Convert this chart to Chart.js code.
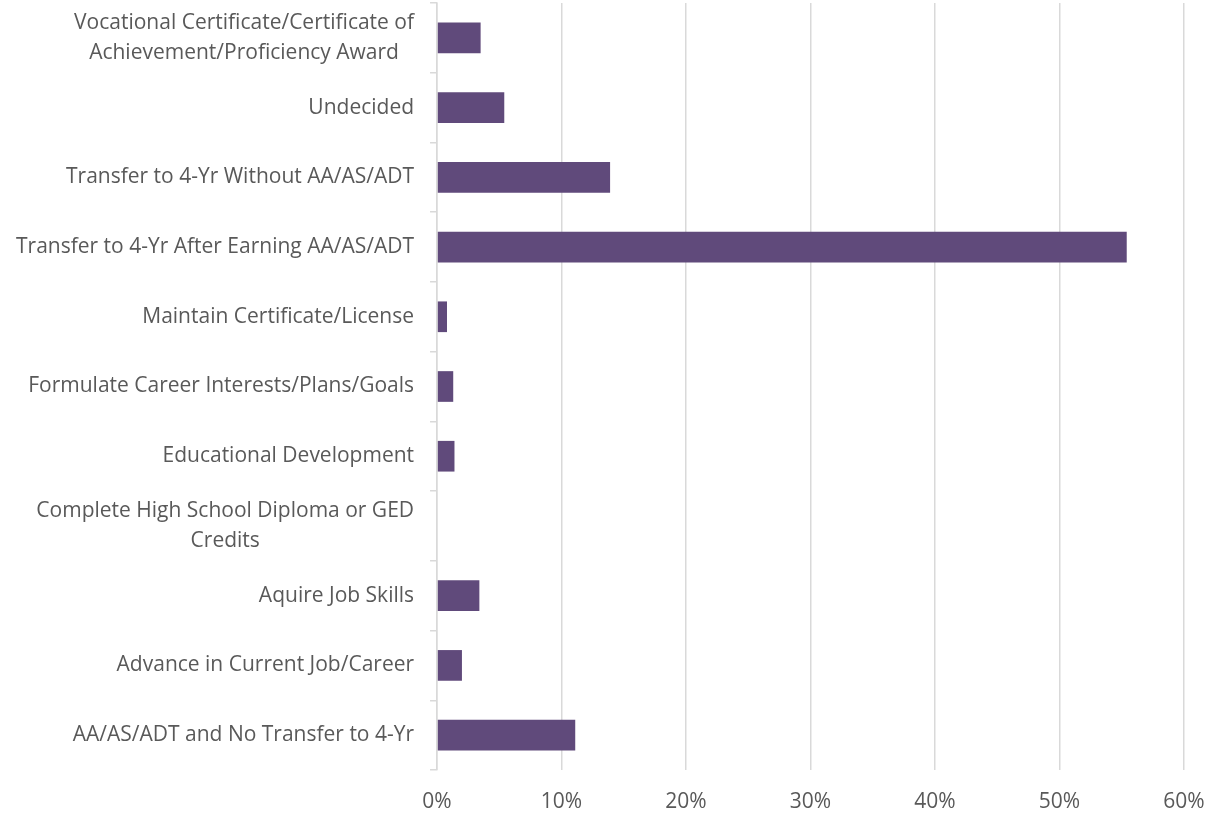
<!DOCTYPE html>
<html>
<head>
<meta charset="utf-8">
<script src="https://cdn.jsdelivr.net/npm/chart.js@4"></script>
<style>
  html, body { margin: 0; padding: 0; background: #fff; }
  #wrap { width: 1215px; height: 814px; }
</style>
</head>
<body>
<div id="wrap"><canvas id="goalsChart"></canvas></div>
<script>
// Categories, top to bottom as shown
const goalLabels = [
    ["Vocational Certificate/Certificate of", "Achievement/Proficiency Award"],
    "Undecided",
    "Transfer to 4-Yr Without AA/AS/ADT",
    "Transfer to 4-Yr After Earning AA/AS/ADT",
    "Maintain Certificate/License",
    "Formulate Career Interests/Plans/Goals",
    "Educational Development",
    ["Complete High School Diploma or GED", "Credits"],
    "Aquire Job Skills",
    "Advance in Current Job/Career",
    "AA/AS/ADT and No Transfer to 4-Yr"
];

// Share of students, percent
const goalShares = [3.5, 5.4, 13.9, 55.4, 0.8, 1.3, 1.4, 0, 3.4, 2.0, 11.1];

const axisMax = 60;
const axisStep = 10;

const textColor = "#595959";
const lineColor = "#d9d9d9";
const labelFont = { family: "Open Sans", size: 21, lineHeight: 1.4 };
const labelPadding = 16;
const tickLen = 7;

// Chart.js right-aligns every line of a wrapped label; the original centres
// the lines of a wrapped label under each other, so draw the labels here.
const centredLabels = {
    id: "centredLabels",
    afterDraw(chart) {
        const scale = chart.scales.y;
        const c = chart.ctx;
        const lineH = labelFont.size * labelFont.lineHeight;
        const right = scale.right - tickLen - labelPadding;
        c.save();
        c.font = labelFont.size + "px '" + labelFont.family + "'";
        c.fillStyle = textColor;
        c.textAlign = "center";
        c.textBaseline = "middle";
        scale.ticks.forEach((t, i) => {
            const lines = [].concat(goalLabels[i]);
            const block = Math.max(...lines.map(l => c.measureText(l).width));
            const y0 = scale.getPixelForTick(i) - (lines.length - 1) * lineH / 2;
            lines.forEach((l, j) => c.fillText(l, right - block / 2, y0 + j * lineH));
        });
        c.restore();
    }
};

const ctx = document.getElementById("goalsChart").getContext("2d");
new Chart(ctx, {
    type: "bar",
    data: {
        labels: goalLabels,
        datasets: [{
            label: "Goal",
            data: goalShares,
            backgroundColor: "#604a7b",
            borderWidth: 0,
            categoryPercentage: 1,
            barPercentage: 0.44
        }]
    },
    options: {
        indexAxis: "y",
        responsive: true,
        maintainAspectRatio: false,
        animation: false,
        layout: { padding: { top: 3, right: 0, bottom: 0, left: 0 } },
        plugins: {
            legend: { display: false },
            tooltip: { enabled: false }
        },
        scales: {
            x: {
                min: 0,
                max: axisMax,
                // fixed axis height and just enough room for the "60%" label
                afterFit: scale => {
                    scale.height = 44;
                    scale.paddingRight = 31;
                },
                ticks: {
                    stepSize: axisStep,
                    color: textColor,
                    font: { family: "Open Sans", size: 21 },
                    padding: 19,
                    callback: v => v + "%"
                },
                grid: { color: lineColor, lineWidth: 1.5, drawTicks: false },
                border: { display: false }
            },
            y: {
                // keep the plot reaching the top edge like the original
                afterFit: scale => {
                    scale.paddingTop = 0;
                    scale.paddingBottom = 0;
                },
                ticks: {
                    // labels still size the axis, but are painted by the plugin
                    color: "rgba(0,0,0,0)",
                    font: labelFont,
                    padding: labelPadding
                },
                grid: {
                    offset: true,
                    drawOnChartArea: false,
                    drawTicks: true,
                    tickLength: tickLen,
                    color: lineColor,
                    lineWidth: 1.5
                },
                border: { display: true, color: lineColor, width: 1.5 }
            }
        }
    },
    plugins: [centredLabels]
});
</script>
</body>
</html>
